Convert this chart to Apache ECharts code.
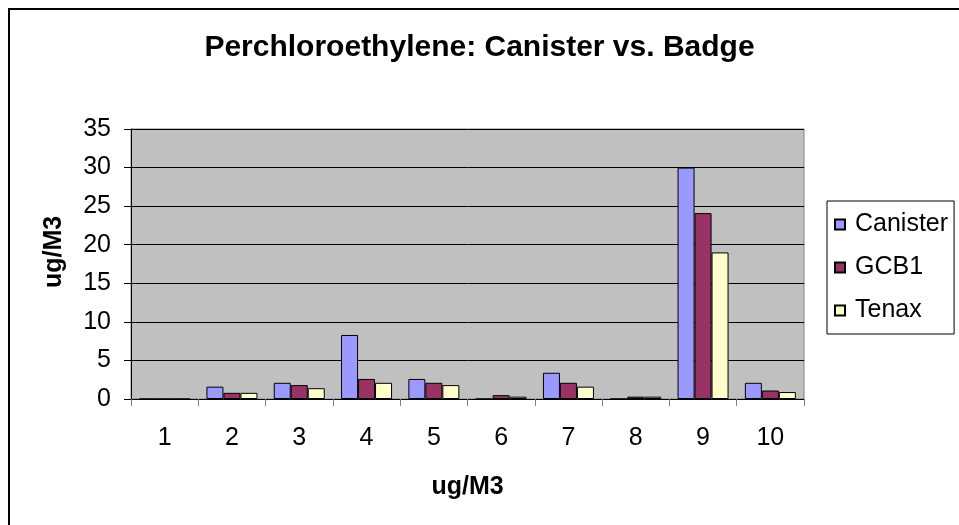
<!DOCTYPE html>
<html>
<head>
<meta charset="utf-8">
<title>Perchloroethylene: Canister vs. Badge</title>
<script src="https://cdn.jsdelivr.net/npm/echarts@6/dist/echarts.min.js"></script>
<style>
  html, body { margin: 0; padding: 0; background: #fff; }
  #chart { width: 959px; height: 525px; }
</style>
</head>
<body>
<div id="chart"></div>
<script>
// sample sites 1..10
const categories = ['1', '2', '3', '4', '5', '6', '7', '8', '9', '10']
const canister = [0, 1.6, 2.1, 8.3, 2.6, 0, 3.4, 0, 30, 2.1]
const gcb1 = [0, 0.8, 1.8, 2.6, 2.1, 0.5, 2.1, 0.3, 24.1, 1.1]
const tenax = [0, 0.8, 1.4, 2.1, 1.8, 0.3, 1.6, 0.3, 19, 0.9]

const font = 'Liberation Sans, Arial, sans-serif'

const chart = echarts.init(document.getElementById('chart'))

const barStyle = (color) => ({
  color: color,
  borderColor: '#000',
  borderWidth: 1
})

const option = {
  backgroundColor: '#fff',
  animation: false,
  textStyle: { fontFamily: font, color: '#000' },
  title: {
    text: 'Perchloroethylene: Canister vs. Badge',
    left: 'center',
    top: 33,
    padding: 0,
    textStyle: { fontSize: 30, fontWeight: 'bold', color: '#000', fontFamily: font }
  },
  legend: {
    orient: 'vertical',
    left: 827,
    top: 201,
    padding: [11, 6, 11, 7],
    itemGap: 18,
    itemWidth: 10,
    itemHeight: 10,
    borderColor: '#000',
    borderWidth: 1,
    backgroundColor: '#fff',
    icon: 'rect',
    textStyle: { fontSize: 25, color: '#000', fontFamily: font, padding: [0, 0, 0, 5] },
    data: ['Canister', 'GCB1', 'Tenax']
  },
  grid: {
    left: 131,
    right: 155,
    top: 129,
    bottom: 126,
    show: true,
    backgroundColor: '#c0c0c0',
    borderColor: '#808080',
    borderWidth: 1
  },
  xAxis: {
    type: 'category',
    data: categories,
    name: 'ug/M3',
    nameLocation: 'middle',
    nameGap: 76,
    nameTextStyle: { fontSize: 25, fontWeight: 'bold', color: '#000', fontFamily: font },
    axisLine: { lineStyle: { color: '#000', width: 1 } },
    axisTick: { show: true, length: 7, lineStyle: { color: '#808080' } },
    axisLabel: { fontSize: 25, color: '#000', margin: 27, fontFamily: font }
  },
  yAxis: {
    type: 'value',
    min: 0,
    max: 35,
    interval: 5,
    name: 'ug/M3',
    nameLocation: 'middle',
    nameGap: 64,
    nameTextStyle: { fontSize: 25, fontWeight: 'bold', color: '#000', fontFamily: font, padding: [0, 0, 0, 24] },
    axisLine: { show: true, lineStyle: { color: '#000', width: 1 } },
    axisTick: { show: true, length: 7, lineStyle: { color: '#000' } },
    axisLabel: { fontSize: 25, color: '#000', margin: 20, fontFamily: font },
    splitLine: { show: true, lineStyle: { color: '#000', width: 1 } }
  },
  graphic: [
    {
      type: 'rect',
      shape: { x: 9, y: 9, width: 970, height: 540 },
      style: { fill: 'none', stroke: '#000', lineWidth: 2 },
      silent: true
    }
  ],
  series: [
    { name: 'Canister', type: 'bar', data: canister, barWidth: 17, barGap: '0%', itemStyle: barStyle('#9999ff') },
    { name: 'GCB1', type: 'bar', data: gcb1, barWidth: 17, barGap: '0%', itemStyle: barStyle('#993366') },
    { name: 'Tenax', type: 'bar', data: tenax, barWidth: 17, barGap: '0%', itemStyle: barStyle('#ffffcc') }
  ]
}

chart.setOption(option)
</script>
</body>
</html>
